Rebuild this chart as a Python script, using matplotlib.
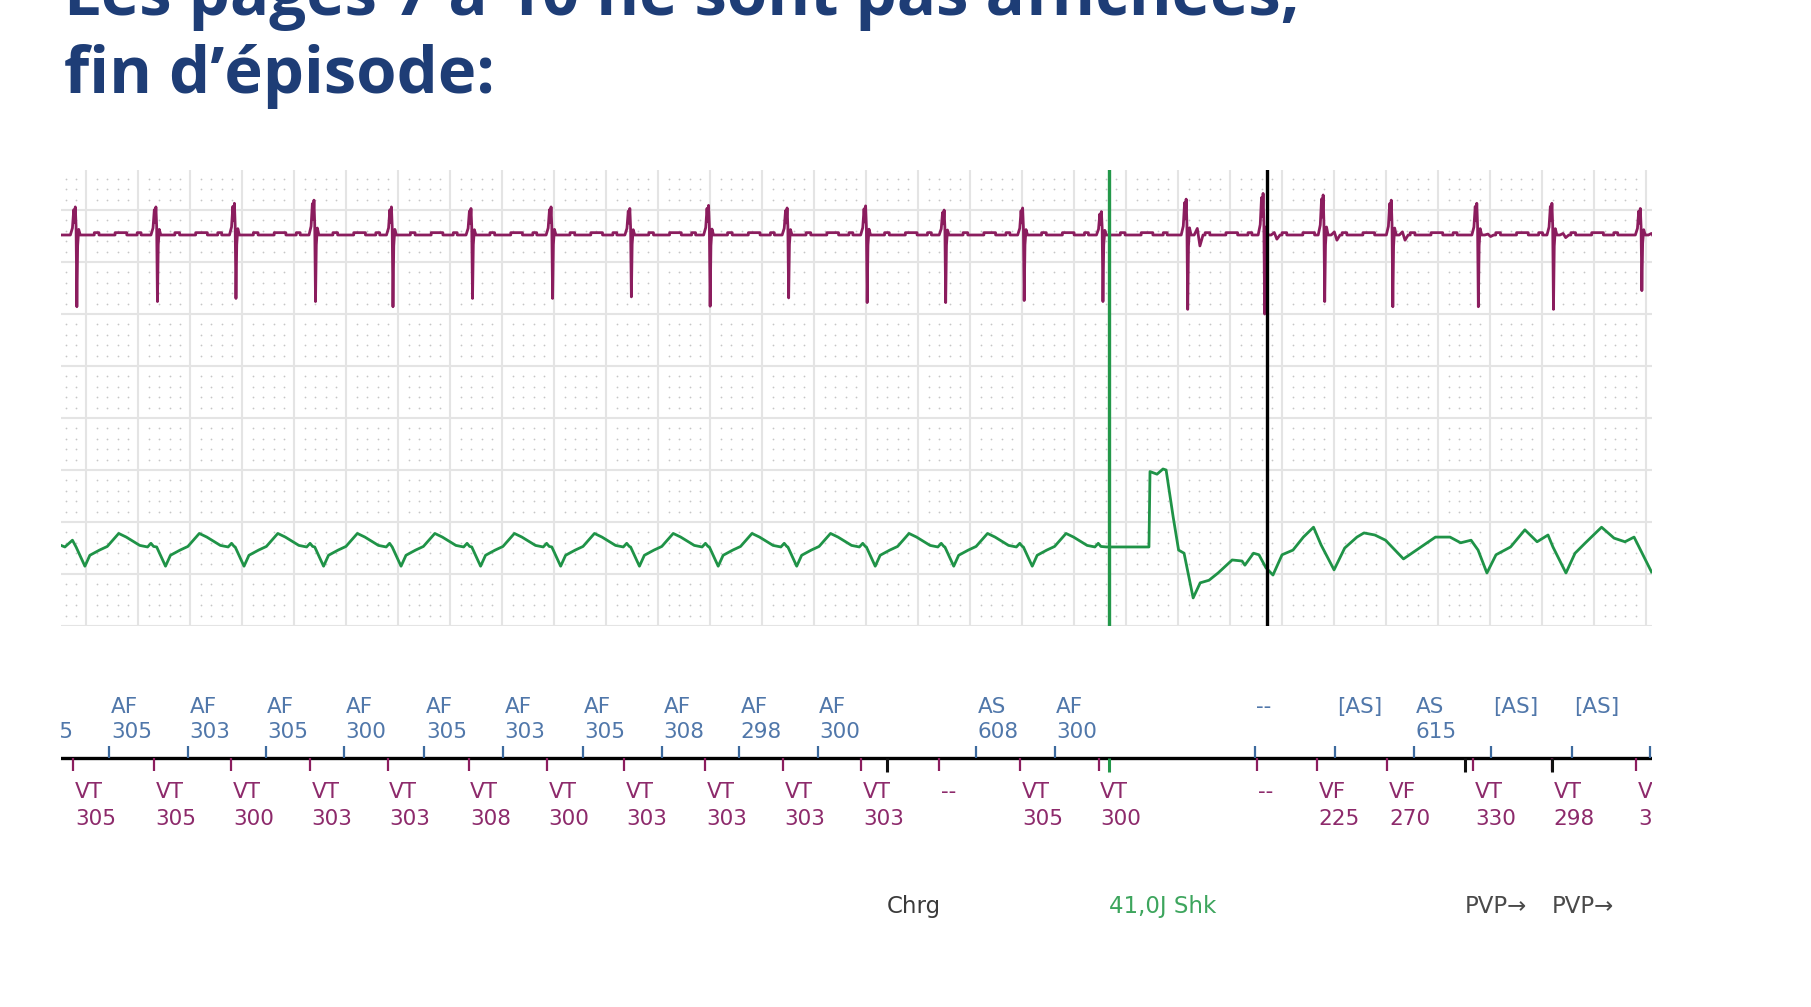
import numpy as np
import matplotlib.pyplot as plt
from matplotlib.ticker import MultipleLocator

# ---------------------------------------------------------------------------
# data (time in ms, amplitude in grid squares)
# ---------------------------------------------------------------------------
TITLE_1 = "Les pages 7 à 10 ne sont pas affichées,"
TITLE_2 = "fin d’épisode:"

# ventricular EGM (purple): beat times and spike sizes
V_BEAT_T = [160, 470, 772, 1078, 1376, 1682, 1990, 2293, 2596, 2898, 3200,
            3502, 3804, 4107, 4433, 4729, 4960, 5222, 5551, 5840, 6180]
V_UP = [0.54, 0.54, 0.61, 0.67, 0.54, 0.51, 0.54, 0.51, 0.57, 0.52, 0.56,
        0.48, 0.52, 0.45, 0.69, 0.80, 0.77, 0.67, 0.61, 0.61, 0.51]
V_DOWN = [1.38, 1.28, 1.22, 1.28, 1.38, 1.22, 1.22, 1.19, 1.37, 1.21, 1.30,
          1.30, 1.26, 1.28, 1.43, 1.52, 1.28, 1.38, 1.38, 1.43, 1.07]
V_AFTER = [0, 0, 0, 0, 0, 0, 0, 0, 0, 0, 0,
           0, 0, 0, 0.21, 0.08, 0.10, 0.10, 0.03, 0.05, 0.05]
P_BASE = 7.52

# shape of one spike
SPIKE_DT = [-22, -14, -9, -6, -3, 0, 3, 6, 10, 16]
C_UP = [0, 0.25, 0.9, 0.45, 1.0, 0.3, 0, 0, 0.2, 0]
C_DOWN = [0, 0, 0, 0, 0, 0, -1.0, -0.15, 0, 0]
AFTER_DT = [28, 40, 50, 62]
C_AFTER = [0, 0.6, -1.0, 0]
BUMPS = [(70, 88), (150, 195), (235, 250)]
BUMP_H = 0.045

# far-field / shock channel (green)
G_BASE = 1.52
G_LEAD_T = [102, 117, 146]
G_LEAD_DY = [0.03, 0.0, 0.13]
G_DT = [0, 34, 53, 90, 120, 164, 193, 245, 275, 288, 298]
G_DY = [0.0, -0.37, -0.16, -0.06, 0.01, 0.26, 0.19, 0.03, 0.0, 0.07, 0.01]
G_POST_T = [4124, 4287, 4291, 4318, 4341, 4353, 4380, 4401, 4422, 4457,
            4484, 4518, 4553, 4607, 4645, 4656, 4689, 4710, 4737, 4764,
            4799, 4841, 4881, 4920, 4949, 4999, 5040, 5087, 5114, 5156,
            5197, 5266, 5333, 5389, 5445, 5486, 5526, 5553, 5587, 5622,
            5678, 5733, 5780, 5822, 5841, 5891, 5926, 5966, 6028, 6076,
            6118, 6153, 6172, 6220]
G_POST_Y = [1.52, 1.52, 2.97, 2.92, 3.02, 3.00, 2.10, 1.46, 1.40, 0.54,
            0.83, 0.88, 1.02, 1.27, 1.25, 1.17, 1.40, 1.37, 1.12, 0.98,
            1.37, 1.46, 1.71, 1.90, 1.56, 1.08, 1.50, 1.71, 1.79, 1.75,
            1.65, 1.29, 1.52, 1.71, 1.71, 1.60, 1.65, 1.46, 1.02, 1.37,
            1.52, 1.85, 1.62, 1.75, 1.52, 1.02, 1.40, 1.60, 1.90, 1.69,
            1.62, 1.71, 1.52, 1.04]

SHOCK_T = 4133
MARK_T = 4741

# marker channel
AF_T = [-13, 288, 591, 889, 1191, 1500, 1802, 2109, 2413, 2710, 3012,
        3621, 3924, 4693, 5004, 5307, 5604, 5916, 6215]
AF_KIND = ["AF"] * 11 + ["AS", "AF", "--", "[AS]", "AS", "[AS]", "[AS]", "[AS]"]
AF_VAL = ["305", "305", "303", "305", "300", "305", "303", "305", "308", "298",
          "300", "608", "300", "", "", "615", "", "", ""]

VT_T = [150, 459, 757, 1059, 1358, 1670, 1972, 2269, 2580, 2879, 3181,
        3480, 3792, 4093, 4701, 4933, 5204, 5535, 5837, 6162]
VT_KIND = ["VT"] * 11 + ["--", "VT", "VT", "--", "VF", "VF", "VT", "VT", "VT"]
VT_VAL = ["305", "305", "300", "303", "303", "308", "300", "303", "303", "303",
          "303", "", "305", "300", "", "225", "270", "330", "298", "325"]

EVT_T = [3280, 4133, 5503, 5837]
EVT_TXT = ["Chrg", "41,0J Shk", "PVP→", "PVP→"]
EVT_TEXT_COL = ["#3a3a3a", "#3da55d", "#4a4a4a", "#4a4a4a"]
EVT_TICK_COL = ["#111111", "#23984a", "#111111", "#111111"]

PURPLE = "#8b1d5e"
GREEN = "#1f9347"
A_TXT = "#5077aa"
A_TICK = "#3d6a9e"
V_TXT = "#8d2a6b"
NAVY = "#1e3d76"

T0, T1 = 102, 6222


def purple_trace():
    ts, ys = [T0 - 10], [P_BASE]
    for i, t0 in enumerate(V_BEAT_T):
        nxt = V_BEAT_T[i + 1] if i + 1 < len(V_BEAT_T) else T1 + 200
        for dt, cu, cd in zip(SPIKE_DT, C_UP, C_DOWN):
            ts.append(t0 + dt)
            ys.append(P_BASE + cu * V_UP[i] + cd * V_DOWN[i])
        if V_AFTER[i] > 0:
            for dt, ca in zip(AFTER_DT, C_AFTER):
                ts.append(t0 + dt)
                ys.append(P_BASE + ca * V_AFTER[i])
        for a, b in BUMPS:
            if t0 + b < nxt - 24:
                ts += [t0 + a, t0 + a, t0 + b, t0 + b]
                ys += [P_BASE, P_BASE + BUMP_H, P_BASE + BUMP_H, P_BASE]
    return ts, ys


def green_trace():
    ts = list(G_LEAD_T)
    ys = [G_BASE + d for d in G_LEAD_DY]
    beats = [t for t in V_BEAT_T if t < SHOCK_T - 100]
    for i, t0 in enumerate(beats):
        nxt = beats[i + 1] if i + 1 < len(beats) else t0 + 400
        for dt, dy in zip(G_DT, G_DY):
            if t0 + dt < nxt - 2:
                ts.append(t0 + dt)
                ys.append(G_BASE + dy)
    ts += G_POST_T
    ys += G_POST_Y
    return ts, ys


W, H = 1811, 1007
fig = plt.figure(figsize=(W / 100, H / 100), dpi=100)
fig.patch.set_facecolor("white")


def px_box(x0, y0, x1, y1):
    return [x0 / W, 1 - y1 / H, (x1 - x0) / W, (y1 - y0) / H]


# title (first line runs off the top of the slide, as in the original)
fig.text(64 / W, 1 - 15 / H, TITLE_1, fontsize=47, fontweight="bold",
         family="Open Sans", color=NAVY, va="baseline", ha="left")
fig.text(64 / W, 1 - 93 / H, TITLE_2, fontsize=47, fontweight="bold",
         family="Open Sans", color=NAVY, va="baseline", ha="left")

# --- EGM strip -------------------------------------------------------------
ax = fig.add_axes(px_box(61, 170, 1652, 626))
ax.set_xlim(T0, T1)
ax.set_ylim(0, 8.77)
ax.xaxis.set_major_locator(MultipleLocator(200))
ax.yaxis.set_major_locator(MultipleLocator(1))
ax.grid(True, color="#e4e4e4", lw=1.5)
ax.tick_params(length=0, labelbottom=False, labelleft=False)
for s in ax.spines.values():
    s.set_visible(False)
ax.set_axisbelow(True)

# small dots of the 40 ms x 0.2 grid
mx = np.arange(200 * np.ceil(T0 / 200) - 200, T1, 40)
mx = mx[(np.round(mx) % 200 != 0) & (mx > T0)]
my = np.arange(0.2, 8.77, 0.2)
my = my[np.abs(my - np.round(my)) > 0.05]
gx, gy = np.meshgrid(mx, my)
ax.scatter(gx.ravel(), gy.ravel(), s=1.6, color="#c6c6c6", lw=0, zorder=1)

pt, py = purple_trace()
ax.plot(pt, py, color=PURPLE, lw=2.0, zorder=3)
gt, gy2 = green_trace()
ax.plot(gt, gy2, color=GREEN, lw=2.0, zorder=3)

ax.axvline(SHOCK_T, color="#23984a", lw=2.4, zorder=4)
ax.axvline(MARK_T, color="black", lw=2.4, zorder=4)

# --- marker channel ----------------------------------------------------------
mk = fig.add_axes(px_box(61, 680, 1652, 940))
mk.set_xlim(T0, T1)
mk.set_ylim(940, 680)
mk.axis("off")

mk.axhline(758, color="black", lw=2.4, zorder=2)
mk.vlines(AF_T, 746, 758, color=A_TICK, lw=1.6, zorder=3)
mk.vlines(VT_T, 758, 771, color=PURPLE, lw=1.6, zorder=3)
mk.vlines(EVT_T, 758, 772, colors=EVT_TICK_COL, lw=2.2, zorder=4)

lab = dict(fontsize=15.5, ha="left", va="baseline", clip_on=True,
           family="DejaVu Sans")
for t, k, v in zip(AF_T, AF_KIND, AF_VAL):
    mk.text(t + 6, 713, k, color=A_TXT, **lab)
    if v:
        mk.text(t + 6, 738, v, color=A_TXT, **lab)
for t, k, v in zip(VT_T, VT_KIND, VT_VAL):
    mk.text(t + 6, 798, k, color=V_TXT, **lab)
    if v:
        mk.text(t + 6, 825, v, color=V_TXT, **lab)

for t, txt, c in zip(EVT_T, EVT_TXT, EVT_TEXT_COL):
    mk.text(t, 913, txt, color=c, fontsize=16.5, ha="left", va="baseline",
            family="DejaVu Sans", clip_on=True)

fig.savefig("out.png", dpi=100, facecolor="white")
